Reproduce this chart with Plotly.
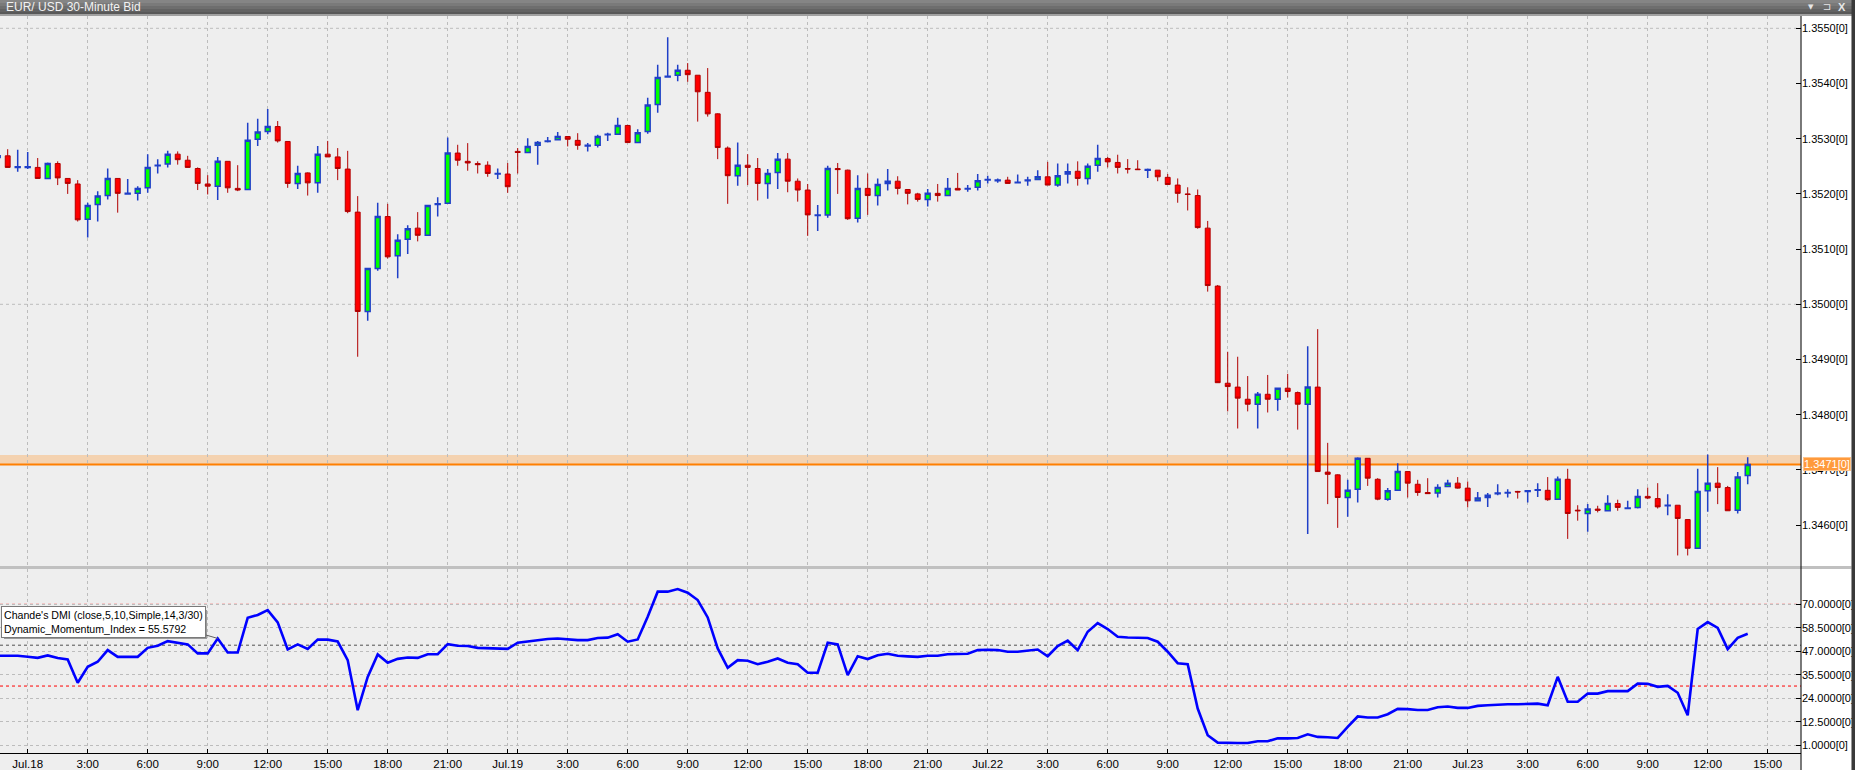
import plotly.graph_objects as go

# ---------------- data ----------------
bar_index = list(range(-3, 173))  # 30-minute bars, 0 = Jul.18 0:00

opens = [1.35266, 1.35269, 1.35248, 1.35248, 1.35248, 1.35228, 1.35255, 1.35228, 1.35218, 1.35154,
         1.35181, 1.35197, 1.35228, 1.35200, 1.35201, 1.35211, 1.35251, 1.35254, 1.35272, 1.35261,
         1.35246, 1.35218, 1.35214, 1.35259, 1.35210, 1.35208, 1.35299, 1.35313, 1.35322, 1.35295,
         1.35219, 1.35238, 1.35220, 1.35272, 1.35267, 1.35245, 1.35167, 1.34987, 1.35065, 1.35159,
         1.35088, 1.35118, 1.35138, 1.35125, 1.35181, 1.35183, 1.35274, 1.35259, 1.35255, 1.35252,
         1.35236, 1.35236, 1.35277, 1.35275, 1.35288, 1.35295, 1.35298, 1.35304, 1.35297, 1.35287,
         1.35288, 1.35307, 1.35308, 1.35324, 1.35293, 1.35313, 1.35362, 1.35412, 1.35415, 1.35424,
         1.35415, 1.35384, 1.35345, 1.35283, 1.35233, 1.35252, 1.35246, 1.35219, 1.35239, 1.35263,
         1.35223, 1.35207, 1.35161, 1.35162, 1.35246, 1.35243, 1.35156, 1.35210, 1.35197, 1.35219,
         1.35223, 1.35208, 1.35200, 1.35190, 1.35201, 1.35197, 1.35210, 1.35209, 1.35212, 1.35225,
         1.35224, 1.35225, 1.35220, 1.35224, 1.35226, 1.35231, 1.35216, 1.35236, 1.35241, 1.35228,
         1.35252, 1.35264, 1.35257, 1.35246, 1.35245, 1.35243, 1.35243, 1.35230, 1.35216, 1.35200,
         1.35197, 1.35138, 1.35033, 1.34857, 1.34850, 1.34828, 1.34819, 1.34837, 1.34828, 1.34848,
         1.34840, 1.34819, 1.34850, 1.34696, 1.34691, 1.34650, 1.34665, 1.34721, 1.34683, 1.34647,
         1.34663, 1.34697, 1.34674, 1.34659, 1.34658, 1.34670, 1.34676, 1.34667, 1.34644, 1.34650,
         1.34657, 1.34658, 1.34661, 1.34661, 1.34663, 1.34663, 1.34647, 1.34683, 1.34627, 1.34621,
         1.34629, 1.34626, 1.34639, 1.34630, 1.34632, 1.34652, 1.34648, 1.34635, 1.34636, 1.34610,
         1.34558, 1.34662, 1.34676, 1.34668, 1.34627, 1.34690]

highs = [1.35275, 1.35281, 1.35280, 1.35276, 1.35265, 1.35257, 1.35259, 1.35228, 1.35225, 1.35184,
         1.35205, 1.35246, 1.35228, 1.35227, 1.35214, 1.35272, 1.35263, 1.35278, 1.35277, 1.35269,
         1.35248, 1.35234, 1.35267, 1.35259, 1.35252, 1.35329, 1.35336, 1.35354, 1.35332, 1.35295,
         1.35251, 1.35239, 1.35287, 1.35296, 1.35283, 1.35278, 1.35196, 1.35066, 1.35184, 1.35182,
         1.35127, 1.35143, 1.35167, 1.35179, 1.35194, 1.35302, 1.35289, 1.35292, 1.35259, 1.35259,
         1.35246, 1.35256, 1.35283, 1.35301, 1.35296, 1.35303, 1.35312, 1.35304, 1.35310, 1.35292,
         1.35307, 1.35311, 1.35338, 1.35325, 1.35317, 1.35374, 1.35434, 1.35484, 1.35434, 1.35437,
         1.35415, 1.35428, 1.35346, 1.35286, 1.35293, 1.35272, 1.35265, 1.35245, 1.35274, 1.35274,
         1.35228, 1.35218, 1.35180, 1.35251, 1.35256, 1.35244, 1.35234, 1.35237, 1.35228, 1.35245,
         1.35232, 1.35208, 1.35202, 1.35209, 1.35218, 1.35229, 1.35238, 1.35216, 1.35236, 1.35233,
         1.35228, 1.35231, 1.35235, 1.35231, 1.35243, 1.35258, 1.35255, 1.35255, 1.35259, 1.35255,
         1.35289, 1.35267, 1.35271, 1.35263, 1.35261, 1.35246, 1.35243, 1.35236, 1.35228, 1.35212,
         1.35208, 1.35151, 1.35035, 1.34914, 1.34905, 1.34870, 1.34841, 1.34872, 1.34848, 1.34874,
         1.34842, 1.34924, 1.34955, 1.34749, 1.34692, 1.34682, 1.34723, 1.34721, 1.34685, 1.34667,
         1.34712, 1.34697, 1.34682, 1.34685, 1.34674, 1.34682, 1.34687, 1.34679, 1.34660, 1.34658,
         1.34674, 1.34665, 1.34662, 1.34661, 1.34676, 1.34687, 1.34688, 1.34702, 1.34636, 1.34638,
         1.34635, 1.34654, 1.34646, 1.34644, 1.34665, 1.34668, 1.34676, 1.34656, 1.34636, 1.34610,
         1.34702, 1.34728, 1.34705, 1.34671, 1.34696, 1.34723]

lows = [1.35261, 1.35248, 1.35240, 1.35245, 1.35228, 1.35228, 1.35216, 1.35200, 1.35150, 1.35121,
        1.35150, 1.35190, 1.35166, 1.35199, 1.35188, 1.35202, 1.35237, 1.35248, 1.35253, 1.35248,
        1.35207, 1.35199, 1.35189, 1.35202, 1.35205, 1.35208, 1.35287, 1.35308, 1.35293, 1.35211,
        1.35209, 1.35197, 1.35202, 1.35267, 1.35225, 1.35165, 1.34905, 1.34970, 1.35061, 1.35083,
        1.35047, 1.35091, 1.35114, 1.35125, 1.35159, 1.35183, 1.35251, 1.35242, 1.35237, 1.35231,
        1.35227, 1.35202, 1.35237, 1.35275, 1.35253, 1.35293, 1.35298, 1.35286, 1.35280, 1.35277,
        1.35284, 1.35296, 1.35308, 1.35293, 1.35293, 1.35309, 1.35347, 1.35411, 1.35404, 1.35403,
        1.35331, 1.35340, 1.35263, 1.35182, 1.35215, 1.35216, 1.35188, 1.35191, 1.35209, 1.35203,
        1.35186, 1.35124, 1.35133, 1.35157, 1.35200, 1.35153, 1.35148, 1.35162, 1.35179, 1.35206,
        1.35199, 1.35181, 1.35186, 1.35177, 1.35186, 1.35197, 1.35207, 1.35204, 1.35206, 1.35219,
        1.35220, 1.35219, 1.35219, 1.35215, 1.35226, 1.35216, 1.35213, 1.35219, 1.35215, 1.35217,
        1.35240, 1.35248, 1.35237, 1.35237, 1.35244, 1.35229, 1.35223, 1.35217, 1.35184, 1.35170,
        1.35137, 1.35023, 1.34858, 1.34806, 1.34775, 1.34806, 1.34775, 1.34804, 1.34807, 1.34831,
        1.34773, 1.34584, 1.34697, 1.34638, 1.34595, 1.34615, 1.34641, 1.34671, 1.34645, 1.34644,
        1.34663, 1.34650, 1.34653, 1.34657, 1.34650, 1.34670, 1.34666, 1.34632, 1.34644, 1.34633,
        1.34654, 1.34650, 1.34648, 1.34641, 1.34651, 1.34644, 1.34647, 1.34575, 1.34608, 1.34588,
        1.34623, 1.34626, 1.34626, 1.34630, 1.34630, 1.34647, 1.34630, 1.34618, 1.34545, 1.34545,
        1.34558, 1.34624, 1.34638, 1.34626, 1.34621, 1.34674]

closes = [1.35269, 1.35248, 1.35249, 1.35249, 1.35228, 1.35255, 1.35229, 1.35219, 1.35153, 1.35179,
          1.35196, 1.35228, 1.35201, 1.35201, 1.35210, 1.35248, 1.35252, 1.35272, 1.35262, 1.35248,
          1.35219, 1.35214, 1.35259, 1.35211, 1.35207, 1.35297, 1.35312, 1.35322, 1.35296, 1.35219,
          1.35237, 1.35220, 1.35272, 1.35267, 1.35246, 1.35168, 1.34987, 1.35065, 1.35159, 1.35086,
          1.35116, 1.35137, 1.35125, 1.35179, 1.35182, 1.35274, 1.35261, 1.35256, 1.35253, 1.35237,
          1.35237, 1.35213, 1.35275, 1.35286, 1.35293, 1.35296, 1.35304, 1.35299, 1.35288, 1.35288,
          1.35304, 1.35308, 1.35324, 1.35293, 1.35311, 1.35361, 1.35411, 1.35413, 1.35424, 1.35416,
          1.35385, 1.35345, 1.35284, 1.35233, 1.35252, 1.35248, 1.35219, 1.35237, 1.35263, 1.35223,
          1.35207, 1.35162, 1.35162, 1.35246, 1.35244, 1.35155, 1.35210, 1.35197, 1.35217, 1.35223,
          1.35210, 1.35201, 1.35190, 1.35201, 1.35197, 1.35210, 1.35207, 1.35210, 1.35224, 1.35226,
          1.35225, 1.35219, 1.35221, 1.35225, 1.35231, 1.35216, 1.35233, 1.35240, 1.35228, 1.35250,
          1.35264, 1.35258, 1.35248, 1.35245, 1.35244, 1.35244, 1.35231, 1.35217, 1.35201, 1.35199,
          1.35139, 1.35034, 1.34858, 1.34851, 1.34830, 1.34819, 1.34837, 1.34828, 1.34848, 1.34842,
          1.34819, 1.34850, 1.34697, 1.34692, 1.34650, 1.34663, 1.34721, 1.34685, 1.34647, 1.34662,
          1.34697, 1.34676, 1.34659, 1.34657, 1.34668, 1.34676, 1.34667, 1.34644, 1.34649, 1.34654,
          1.34658, 1.34659, 1.34660, 1.34662, 1.34664, 1.34646, 1.34683, 1.34621, 1.34626, 1.34629,
          1.34627, 1.34639, 1.34632, 1.34631, 1.34652, 1.34649, 1.34633, 1.34636, 1.34612, 1.34558,
          1.34661, 1.34676, 1.34668, 1.34626, 1.34687, 1.34710]

dmi = [44.8, 44.8, 44.8, 44.3, 43.8, 45.0, 43.7, 43.0, 31.6, 39.4,
       41.9, 47.6, 44.3, 44.3, 44.3, 48.7, 49.7, 52.0, 51.2, 50.4,
       46.0, 46.0, 53.3, 46.4, 46.4, 63.4, 64.8, 67.2, 61.2, 47.9,
       50.4, 48.2, 52.8, 52.7, 51.8, 42.7, 18.2, 34.5, 45.5, 41.4,
       43.3, 44.0, 43.8, 45.6, 45.6, 50.5, 49.7, 49.6, 48.7, 48.6,
       48.4, 48.2, 51.2, 51.8, 52.5, 53.0, 53.3, 52.8, 52.5, 52.5,
       53.5, 53.7, 55.4, 51.7, 52.8, 63.9, 76.2, 76.2, 77.5, 75.7,
       72.1, 63.6, 48.4, 38.9, 42.7, 42.4, 40.7, 41.9, 43.5, 41.4,
       40.7, 36.5, 36.5, 51.2, 50.4, 35.3, 44.6, 43.2, 45.1, 45.8,
       44.8, 44.5, 44.3, 44.8, 44.8, 45.6, 45.8, 45.8, 47.6, 47.8,
       47.6, 46.8, 46.8, 47.4, 47.9, 44.6, 49.6, 52.2, 47.6, 56.6,
       60.8, 57.9, 54.1, 53.8, 53.6, 53.5, 51.7, 46.8, 41.2, 40.7,
       19.0, 5.9, 2.3, 2.1, 2.1, 2.1, 3.0, 3.0, 4.4, 4.4,
       4.6, 6.4, 5.1, 4.9, 4.6, 10.0, 15.1, 14.6, 14.6, 16.2,
       18.8, 18.7, 18.3, 18.3, 19.6, 20.0, 19.3, 19.3, 20.3, 20.6,
       20.9, 21.1, 21.1, 21.4, 21.4, 20.6, 34.5, 22.3, 22.3, 26.3,
       26.3, 27.5, 27.5, 27.5, 31.2, 31.1, 29.6, 30.1, 26.7, 15.7,
       57.9, 61.3, 58.5, 48.1, 53.6, 55.5792]

tick_labels = ["Jul.18", "3:00", "6:00", "9:00", "12:00", "15:00", "18:00", "21:00",
               "Jul.19", "3:00", "6:00", "9:00", "12:00", "15:00", "18:00", "21:00",
               "Jul.22", "3:00", "6:00", "9:00", "12:00", "15:00", "18:00", "21:00",
               "Jul.23", "3:00", "6:00", "9:00", "12:00", "15:00"]
bars_per_label = 6
session_break_bar = 49

price_ticks = [1.3460, 1.3470, 1.3480, 1.3490, 1.3500, 1.3510, 1.3520, 1.3530, 1.3540, 1.3550]
price_grid = [1.3500, 1.3550]
dmi_ticks = [1.0, 12.5, 24.0, 35.5, 47.0, 58.5, 70.0]
dmi_upper, dmi_mid, dmi_lower = 70, 50, 30
ask_price = 1.34727

title_text = "EUR/ USD 30-Minute Bid"
legend_text = "Chande's DMI (close,5,10,Simple,14,3/30)<br>Dynamic_Momentum_Index = 55.5792"

# ---------------- figure ----------------
FONT = "Liberation Sans, Arial, sans-serif"
W, H = 1855, 770
ML, MR, MT, MB = 0, 54, 16, 17
PW, PH = W - ML - MR, H - MT - MB


def px(X):
    return (X - ML) / PW


def py(Y):
    return (H - MB - Y) / PH


tickvals = [i * bars_per_label for i in range(len(tick_labels))] + [session_break_bar]
ticktext = tick_labels + [""]

x_left = -2.77
x_range = [x_left, x_left + PW / 10.0]

fig = go.Figure()
fig.add_trace(go.Candlestick(
    x=bar_index, open=opens, high=highs, low=lows, close=closes,
    increasing=dict(line=dict(color="#1f3fc8", width=1.5), fillcolor="#00ff00"),
    decreasing=dict(line=dict(color="#b00000", width=1), fillcolor="#ff0000"),
    whiskerwidth=0, showlegend=False, hoverinfo="skip",
    xaxis="x", yaxis="y"))
fig.add_trace(go.Scatter(
    x=bar_index, y=dmi, mode="lines", line=dict(color="#0000ff", width=2.6),
    showlegend=False, hoverinfo="skip", xaxis="x2", yaxis="y2"))

grid_col = "#bcbcbc"
ax_common = dict(range=x_range, tickvals=tickvals, ticktext=ticktext, showgrid=True,
                 gridcolor=grid_col, griddash="3px,3px", gridwidth=1, zeroline=False,
                 fixedrange=True)

price_dom = [py(566), 1.0]
dmi_dom = [0.0, py(569)]

shapes = []
# spread band and current price line
shapes.append(dict(type="rect", xref="paper", yref="y", x0=0, x1=1, y0=closes[-1], y1=ask_price,
                   fillcolor="#f4d2b0", line=dict(width=0), layer="below"))
shapes.append(dict(type="line", xref="paper", yref="y", x0=0, x1=1, y0=closes[-1], y1=closes[-1],
                   line=dict(color="#ff7f00", width=2), layer="between"))
for g in price_grid:
    shapes.append(dict(type="line", xref="paper", yref="y", x0=0, x1=1, y0=g, y1=g,
                       line=dict(color=grid_col, width=1, dash="3px,3px"), layer="below"))
# DMI reference levels
for lvl, col in [(dmi_upper, "#ff0000"), (dmi_lower, "#ff0000"), (dmi_mid, "#505050")]:
    shapes.append(dict(type="line", xref="paper", yref="y2", x0=0, x1=1, y0=lvl, y1=lvl,
                       line=dict(color=col, width=1, dash="dot"), layer="between"))
# white axis strip on the right
shapes.append(dict(type="rect", xref="paper", yref="paper", x0=px(1801.5), x1=px(1851.5),
                   y0=py(775), y1=py(16), fillcolor="#ffffff", line=dict(width=0), layer="below"))
# panel separator
shapes.append(dict(type="rect", xref="paper", yref="paper", x0=px(0), x1=px(1851.5),
                   y0=py(569), y1=py(566), fillcolor="#c0c0c0", line=dict(width=0), layer="above"))
# right axis line
shapes.append(dict(type="line", xref="paper", yref="paper", x0=px(1801), x1=px(1801),
                   y0=py(775), y1=py(16), line=dict(color="#000000", width=1), layer="above"))
# title bar (gradient strips)
strips = [(0, 3, "#858585"), (3, 6, "#7a7a7a"), (6, 9, "#6e6e6e"), (9, 12, "#626262"),
          (12, 14, "#585858"), (14, 16, "#a0a0a0")]
for y0, y1, c in strips:
    shapes.append(dict(type="rect", xref="paper", yref="paper", x0=px(-5), x1=px(1860),
                       y0=py(y1), y1=py(y0), fillcolor=c, line=dict(width=0), layer="above"))
# right window border
shapes.append(dict(type="rect", xref="paper", yref="paper", x0=px(1851.5), x1=px(1860),
                   y0=py(775), y1=py(-5), fillcolor="#3a3a3a", line=dict(width=0), layer="above"))
# legend box shadow
shapes.append(dict(type="rect", xref="paper", yref="paper", x0=px(4), x1=px(207),
                   y0=py(639), y1=py(610), fillcolor="#9a9a9a", line=dict(width=0), layer="above"))
# legend callout pointer to the line
ptr_bar = 19
shapes.append(dict(type="line", xref="x2", yref="y2", x0=17.4, y0=55.6,
                   x1=ptr_bar, y1=dmi[bar_index.index(ptr_bar)],
                   line=dict(color="#606060", width=1), layer="above"))

annotations = [
    dict(text=title_text, xref="paper", yref="paper", x=px(4), y=py(7.5), xanchor="left",
         yanchor="middle", showarrow=False, font=dict(family=FONT, size=12, color="#f2f2f2")),
    dict(text="▼", xref="paper", yref="paper", x=px(1811), y=py(7), xanchor="center",
         yanchor="middle", showarrow=False, font=dict(family="DejaVu Sans", size=7, color="#e6e6e6")),
    dict(text="⊐", xref="paper", yref="paper", x=px(1827), y=py(7), xanchor="center",
         yanchor="middle", showarrow=False, font=dict(family="DejaVu Sans", size=10, color="#e6e6e6")),
    dict(text="<b>X</b>", xref="paper", yref="paper", x=px(1842), y=py(7), xanchor="center",
         yanchor="middle", showarrow=False, font=dict(family=FONT, size=11, color="#e6e6e6")),
    dict(text=f"{closes[-1]:.4f}[0]", xref="paper", yref="y", x=px(1802.5), y=closes[-1],
         xanchor="left", yanchor="middle", showarrow=False,
         font=dict(family=FONT, size=11, color="#ffffff"),
         bgcolor="#ff9a3c", bordercolor="#ffc48a", borderwidth=1, borderpad=0),
    dict(text=legend_text, xref="paper", yref="paper", x=px(1), y=py(605.5), xanchor="left",
         yanchor="top", showarrow=False, align="left",
         font=dict(family=FONT, size=10.6, color="#000000"),
         bgcolor="#ffffff", bordercolor="#7a7a7a", borderwidth=1, borderpad=2),
]

fig.update_layout(
    width=W, height=H,
    margin=dict(l=ML, r=MR, t=MT, b=MB, pad=0),
    paper_bgcolor="#eeeeee", plot_bgcolor="#eeeeee",
    font=dict(family=FONT, size=11, color="#000000"),
    showlegend=False,
    xaxis=dict(domain=[0, 1], anchor="y", showticklabels=False, ticks="",
               rangeslider=dict(visible=False), **ax_common),
    xaxis2=dict(domain=[0, 1], anchor="y2", showticklabels=True, ticks="inside", ticklen=4,
                tickcolor="#000000", showline=True, linecolor="#000000", linewidth=1,
                tickfont=dict(family=FONT, size=11.5, color="#000000"), **ax_common),
    yaxis=dict(domain=price_dom, anchor="x", side="right", range=[1.345259, 1.355223],
               tickvals=price_ticks, ticktext=[f"{v:.4f}[0]" for v in price_ticks],
               ticks="inside", ticklen=5, tickcolor="#000000", showgrid=False, zeroline=False,
               tickfont=dict(family=FONT, size=11, color="#000000"), fixedrange=True),
    yaxis2=dict(domain=dmi_dom, anchor="x2", side="right", range=[-2.78, 87.3],
                tickvals=dmi_ticks, ticktext=[f"{v:.4f}[0]" for v in dmi_ticks],
                ticks="inside", ticklen=5, tickcolor="#000000", showgrid=True,
                gridcolor=grid_col, griddash="3px,3px", zeroline=False,
                tickfont=dict(family=FONT, size=11, color="#000000"), fixedrange=True),
    shapes=shapes,
    annotations=annotations,
    boxgap=0.3,
)

fig.write_html("out.html", config={"displayModeBar": False},
               post_script="document.body.style.margin='0';document.body.style.overflow='hidden';")
